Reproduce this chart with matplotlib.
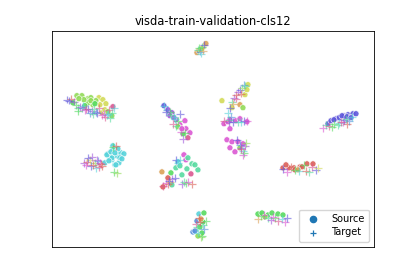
import matplotlib
matplotlib.use("Agg")
import matplotlib.pyplot as plt
import seaborn as sns

title = "visda-train-validation-cls12"
legend_labels = ["Source", "Target"]

# Values; x and y are the embedding coordinates
source_x = [77,82,88,91,99,103,106,93,88,100,73,113,112,102,84,96,79,91,95,105,108,85,
    108,112,117,121,124,110,115,119,105,113,118,112,113,116,107,111,115,120,109,122,
    197,199,201,204,206,202,
    164,168,172,176,180,185,186,190,178,183,188,170,174,182,
    222,232,240,245,248,247,243,
    224,228,230,236,247,240,230,
    227,232,230,235,238,240,243,
    184,186,178,192,187,182,198,191,162,171,163,172,168,176,180,195,188,
    199,204,197,203,200,193,202,195,198,201,
    283,289,294,300,307,313,302,295,286,298,
    328,331,336,339,344,348,353,356,342,334,347,351,
    258,262,268,272,278,283,265,
    ]
source_y = [96,96,99,98,98,100,104,105,103,105,103,107,116,113,100,101,99,101,104,110,112,106,
    154,160,156,153,154,158,165,163,163,146,149,158,150,165,155,152,153,158,161,159,
    53,51,50,47,44,49,
    106,110,113,120,125,121,129,133,127,134,138,116,118,129,
    101,108,105,95,85,90,108,
    124,122,129,121,122,119,120,
    140,142,148,152,142,148,144,
    155,160,162,164,169,175,170,174,172,173,187,185,178,168,166,165,158,
    214,213,221,222,227,232,233,231,236,219,
    168,168,168,167,164,164,167,170,165,170,
    124,121,119,118,116,115,114,114,116,120,117,118,
    214,213,215,213,214,215,217,
    ]
source_cls = [3,3,3,3,2,2,2,3,3,2,4,11,3,2,3,3,3,3,4,2,3,4,
    6,6,6,6,6,6,6,6,6,6,6,6,6,6,6,6,6,6,6,6,
    1,1,1,2,1,2,
    8,9,9,9,10,10,10,10,3,4,11,9,9,10,
    2,2,1,2,2,2,3,
    10,10,10,10,10,10,10,
    10,10,10,10,10,3,10,
    10,10,6,5,5,5,5,11,1,4,0,5,0,5,5,5,5,
    6,4,7,4,4,7,4,7,3,1,
    0,0,0,0,0,0,0,0,0,1,
    8,8,8,8,8,8,8,8,8,8,8,8,
    4,4,4,4,4,4,3,
    ]

target_x = [67,71,74,78,82,85,88,83,92,96,99,104,107,110,109,114,78,94,69,76,80,86,90,93,97,102,105,108,112,
    84,87,90,92,95,98,100,101,91,96,99,113,116,114,117,86,88,93,97,102,
    198,200,202,204,199,201,203,
    164,167,170,174,178,176,181,183,180,166,171,175,173,185,
    228,230,232,234,236,238,240,242,244,245,241,236,233,231,229,
    224,229,233,238,241,244,247,
    237,240,241,243,244,245,246,243,241,
    176,178,166,168,170,172,175,182,184,186,188,192,163,169,180,
    199,203,196,206,198,201,204,197,200,202,
    283,287,299,304,306,309,312,316,318,291,295,
    323,326,329,334,339,343,347,349,352,344,338,332,341,346,
    258,264,268,271,275,278,282,285,287,261,273,
    ]
target_y = [100,99,102,108,108,110,109,106,111,112,108,114,115,118,110,108,111,109,101,105,107,109,113,114,113,115,117,114,113,
    163,162,160,157,163,161,163,164,166,168,167,147,146,172,173,165,158,165,160,166,
    50,52,47,45,48,54,51,
    106,110,112,117,121,126,132,139,114,112,115,119,124,133,
    113,108,102,98,95,92,90,88,85,86,94,99,104,117,120,
    121,122,122,122,122,121,121,
    140,145,148,151,153,146,143,155,149,
    160,163,183,184,182,179,178,184,182,183,182,184,186,181,160,
    218,225,224,221,233,237,229,227,222,236,
    169,172,171,165,171,172,167,170,168,167,170,
    128,125,126,124,123,122,124,121,117,120,125,127,122,119,
    219,215,218,220,218,221,219,222,218,216,217,
    ]
target_cls = [8,0,9,5,7,10,8,6,9,7,11,10,6,5,11,6,4,5,8,4,9,11,7,5,8,10,11,6,5,
    9,0,2,9,3,7,10,0,8,6,11,4,0,4,3,10,8,0,9,0,
    5,7,5,8,4,6,1,
    6,7,4,6,4,5,10,9,8,8,5,6,11,4,
    6,8,5,9,0,9,8,3,7,5,0,11,1,7,5,
    11,9,8,5,6,8,10,
    8,7,9,6,4,9,3,10,11,
    8,6,10,0,1,9,8,9,5,4,10,0,11,8,6,
    0,5,11,4,6,3,7,5,0,4,
    8,10,6,4,0,5,11,8,2,0,4,
    10,5,11,4,6,10,0,7,6,8,5,4,11,5,
    1,10,5,9,4,11,6,10,8,4,10,
    ]

palette = sns.color_palette("hls", 12)

fig, ax = plt.subplots(figsize=(4.15, 2.77), dpi=100)
ax.scatter(source_x, source_y, s=19, c=[palette[c] for c in source_cls],
           marker="o", edgecolors="white", linewidths=0.5, alpha=0.9, zorder=2)
ax.scatter(target_x, target_y, s=30, c=[palette[c] for c in target_cls],
           marker="+", linewidths=0.9, alpha=0.6, zorder=3)

ax.scatter([], [], s=20, color="#1f77b4", marker="o", label=legend_labels[0])
ax.scatter([], [], s=24, color="#1f77b4", marker="+", linewidths=0.9, label=legend_labels[1])

ax.set_xlim(52, 373.5)
ax.set_ylim(246.5, 31.5)
ax.set_xticks([])
ax.set_yticks([])
for s in ax.spines.values():
    s.set_linewidth(0.6)
ax.set_title(title, fontsize=8.3, pad=4.2)
ax.legend(loc="lower right", fontsize=7, borderaxespad=0.5, handletextpad=0.8,
          labelspacing=0.35, framealpha=0.8, edgecolor="0.8", borderpad=0.45)
fig.subplots_adjust(left=0.125, right=0.9, top=0.888, bottom=0.11)
fig.savefig("out.png", dpi=100)
